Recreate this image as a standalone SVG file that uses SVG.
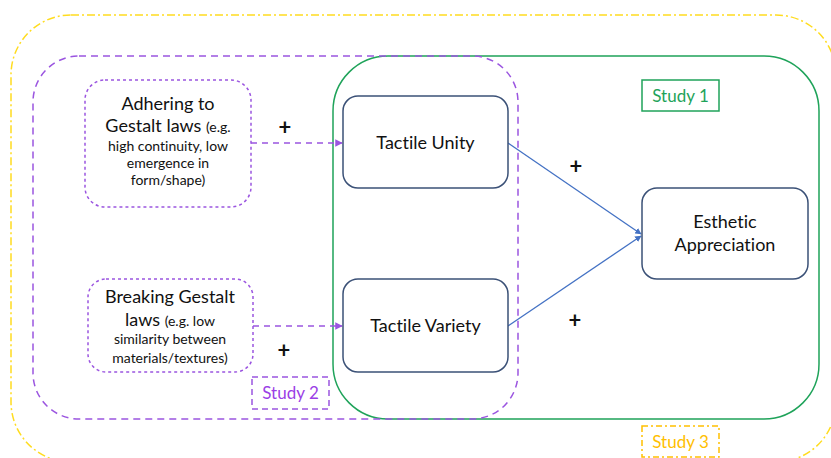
<svg xmlns="http://www.w3.org/2000/svg" width="831" height="458" viewBox="0 0 831 458">
<defs>
<style>
text{font-family:Lato,"Open Sans","Liberation Sans",sans-serif;text-anchor:middle;fill:#111;font-variant-ligatures:none}
.big{font-size:18px}
.sm{font-size:14px}
.node{fill:#fff;stroke:#3b5177;stroke-width:1.5}
.src{fill:#fff;stroke:#9b55e0;stroke-width:1.5;stroke-dasharray:3 3}
.plus{font-size:22px;font-weight:bold}
.lab{font-size:17px}
</style>
<marker id="pa" viewBox="0 0 10 10" refX="9" refY="5" markerWidth="5" markerHeight="5" orient="auto"><path d="M0,0L10,5L0,10z" fill="#9b55e0"/></marker>
<marker id="ba" viewBox="0 0 10 10" refX="9" refY="5" markerWidth="5" markerHeight="5" orient="auto"><path d="M0,0L10,5L0,10z" fill="#4472c4"/></marker>
</defs>
<g id="study3">
<rect x="11" y="15" width="825" height="447" rx="60" fill="none" stroke="#ffdc1f" stroke-width="1.5" stroke-dasharray="8 3 2 3"/>
<rect x="642" y="426" width="77" height="31" fill="none" stroke="#ffc000" stroke-width="1.5" stroke-dasharray="6 3 2 3"/>
<text class="lab" x="680.5" y="448" style="fill:#ffc000">Study 3</text>
</g>
<g id="study1">
<rect x="333" y="56" width="486" height="363" rx="55" fill="none" stroke="#1fa35a" stroke-width="1.5"/>
<rect x="642" y="80" width="77" height="31" fill="none" stroke="#1fa35a" stroke-width="1.5"/>
<text class="lab" x="680.5" y="102" style="fill:#1fa35a">Study 1</text>
</g>
<g id="study2">
<rect x="33" y="56" width="485" height="363" rx="46" fill="none" stroke="#9b55e0" stroke-width="1.5" stroke-dasharray="7 5"/>
<rect x="252" y="377" width="77" height="32" fill="none" stroke="#9b55e0" stroke-width="1.5" stroke-dasharray="6 4"/>
<text class="lab" x="290.5" y="399" style="fill:#9b3fe6">Study 2</text>
</g>
<g id="connectors">
<line x1="251" y1="143" x2="342" y2="143" stroke="#9b55e0" stroke-width="1.5" stroke-dasharray="6 5" marker-end="url(#pa)"/>
<line x1="253" y1="326" x2="342" y2="326" stroke="#9b55e0" stroke-width="1.5" stroke-dasharray="6 5" marker-end="url(#pa)"/>
<line x1="508" y1="143" x2="641" y2="234" stroke="#4472c4" stroke-width="1.3" marker-end="url(#ba)"/>
<line x1="508" y1="326" x2="641" y2="236" stroke="#4472c4" stroke-width="1.3" marker-end="url(#ba)"/>
<text class="plus" x="285" y="135">+</text>
<text class="plus" x="284" y="358">+</text>
<text class="plus" x="576" y="174">+</text>
<text class="plus" x="575" y="328">+</text>
</g>
<g id="adhering">
<rect class="src" x="85" y="80" width="166" height="127" rx="20"/>
<text class="big" x="168" y="110">Adhering to</text>
<text x="168" y="132"><tspan class="big">Gestalt laws </tspan><tspan class="sm">(e.g.</tspan></text>
<text class="sm" x="168" y="151">high continuity, low</text>
<text class="sm" x="168" y="168">emergence in</text>
<text class="sm" x="168" y="185">form/shape)</text>
</g>
<g id="breaking">
<rect class="src" x="88" y="279" width="165" height="93" rx="18"/>
<text class="big" x="170" y="303">Breaking Gestalt</text>
<text x="170" y="326"><tspan class="big">laws </tspan><tspan class="sm">(e.g. low</tspan></text>
<text class="sm" x="170" y="344">similarity between</text>
<text class="sm" x="170" y="363">materials/textures)</text>
</g>
<g id="unity">
<rect class="node" x="343" y="96" width="165" height="92" rx="15"/>
<text class="big" x="425.5" y="149">Tactile Unity</text>
</g>
<g id="variety">
<rect class="node" x="343" y="279" width="165" height="93" rx="15"/>
<text class="big" x="425.5" y="332">Tactile Variety</text>
</g>
<g id="esthetic">
<rect class="node" x="642" y="188" width="166" height="91" rx="15"/>
<text class="big" x="725" y="228">Esthetic</text>
<text class="big" x="725" y="251">Appreciation</text>
</g>
</svg>
